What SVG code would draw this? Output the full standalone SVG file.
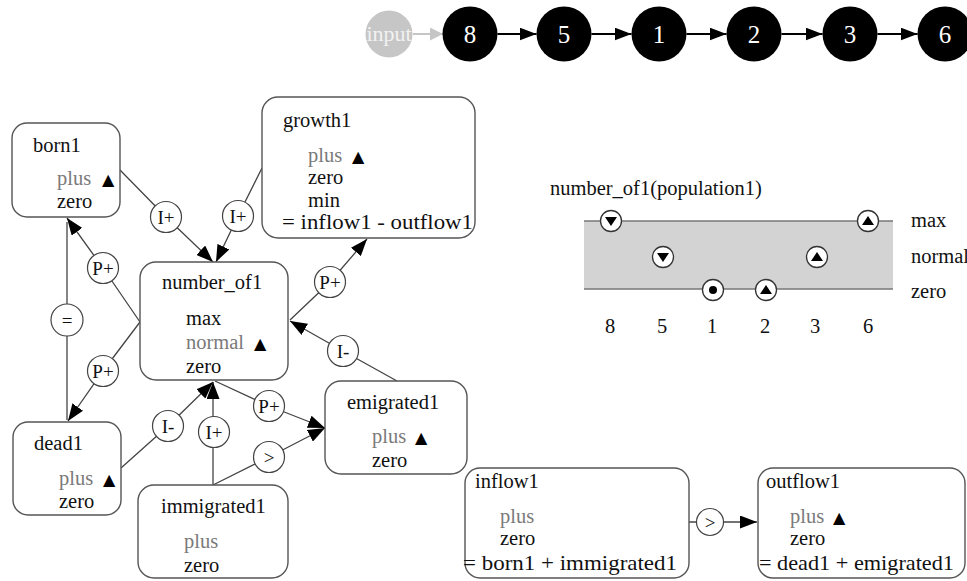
<svg xmlns="http://www.w3.org/2000/svg" width="967" height="581" viewBox="0 0 967 581">
  <style>
    text { font-family: "Liberation Serif", "Times New Roman", serif; }
    .box { fill: #fff; stroke: #555; stroke-width: 1.4; }
    .t { font-size: 20.5px; fill: #111; }
    .g { font-size: 20.5px; fill: #7a7a7a; }
    .eq { font-size: 22px; fill: #111; }
    .tri { font-family: "DejaVu Sans", sans-serif; font-size: 16px; fill: #000; }
    .edge { fill: none; stroke: #444; stroke-width: 1.3; }
    .lab circle { fill: #fff; stroke: #444; stroke-width: 1.2; }
    .lab text { font-size: 19px; text-anchor: middle; fill: #111; }
    .st circle { fill: #000; }
    .st text { fill: #fff; font-size: 25px; text-anchor: middle; }
    .chain { stroke: #000; stroke-width: 2; }
    .mk circle { fill: #fff; stroke: #333; stroke-width: 1.3; }
    .mk polygon, .mk .dot { fill: #000; stroke: none; }
    .axis { font-size: 20.5px; fill: #111; }
    .num { font-size: 20.5px; fill: #111; text-anchor: middle; }
  </style>
  <defs>
    <marker id="ah" viewBox="0 0 17 13" refX="17" refY="6.5" markerWidth="17" markerHeight="13" orient="auto" markerUnits="userSpaceOnUse">
      <path d="M0,0 L17,6.5 L0,13 Z" fill="#000"/>
    </marker>
    <marker id="ahGray" viewBox="0 0 13 13" refX="13" refY="6.5" markerWidth="13" markerHeight="13" orient="auto" markerUnits="userSpaceOnUse">
      <path d="M0,0 L13,6.5 L0,13 Z" fill="#c6c6c6"/>
    </marker>
  </defs>

  <!-- state sequence -->
  <g id="chain-links">
    <line x1="413" y1="34" x2="443" y2="34" stroke="#c6c6c6" stroke-width="2" marker-end="url(#ahGray)"/>
    <line class="chain" x1="497.5" y1="34" x2="536.5" y2="34" marker-end="url(#ah)"/>
    <line class="chain" x1="591.5" y1="34" x2="631.5" y2="34" marker-end="url(#ah)"/>
    <line class="chain" x1="686.5" y1="34" x2="726.5" y2="34" marker-end="url(#ah)"/>
    <line class="chain" x1="781.5" y1="34" x2="822.5" y2="34" marker-end="url(#ah)"/>
    <line class="chain" x1="877.5" y1="34" x2="917.5" y2="34" marker-end="url(#ah)"/>
  </g>
  <g id="state-input">
    <circle cx="389" cy="34" r="23.5" fill="#c6c6c6"/>
    <text x="389" y="41" font-size="22" fill="#f2f2f2" text-anchor="middle">input</text>
  </g>
  <g id="state-8" class="st"><circle cx="470" cy="34" r="27.5"/><text x="470" y="43">8</text></g>
  <g id="state-5" class="st"><circle cx="564" cy="34" r="27.5"/><text x="564" y="43">5</text></g>
  <g id="state-1" class="st"><circle cx="659" cy="34" r="27.5"/><text x="659" y="43">1</text></g>
  <g id="state-2" class="st"><circle cx="754" cy="34" r="27.5"/><text x="754" y="43">2</text></g>
  <g id="state-3" class="st"><circle cx="850" cy="34" r="27.5"/><text x="850" y="43">3</text></g>
  <g id="state-6" class="st"><circle cx="945" cy="34" r="27.5"/><text x="945" y="43">6</text></g>

  <!-- dependency connectors -->
  <g id="connectors">
    <polyline class="edge" points="120,170 166,217 213,262" marker-end="url(#ah)"/>
    <polyline class="edge" points="262,168 238,216 216,262" marker-end="url(#ah)"/>
    <polyline class="edge" points="140,322 103,268 67,218" marker-end="url(#ah)"/>
    <polyline class="edge" points="140,322 103,371 68,421" marker-end="url(#ah)"/>
    <polyline class="edge" points="67,222 67,320 67,420"/>
    <polyline class="edge" points="290,320 330,282 367,239" marker-end="url(#ah)"/>
    <polyline class="edge" points="397,381 343,351 290,321" marker-end="url(#ah)"/>
    <polyline class="edge" points="121,468 168,426 213,382" marker-end="url(#ah)"/>
    <polyline class="edge" points="213,485 213,432 213,382" marker-end="url(#ah)"/>
    <polyline class="edge" points="213,485 269,457 325,428" marker-end="url(#ah)"/>
    <polyline class="edge" points="215,381 269,406 325,428" marker-end="url(#ah)"/>
    <polyline class="edge" points="689,522 710,522 757,522" marker-end="url(#ah)"/>

    <g class="lab"><circle cx="166" cy="217" r="15.5"/><text x="166" y="224">I+</text></g>
    <g class="lab"><circle cx="238" cy="216" r="15.5"/><text x="238" y="223">I+</text></g>
    <g class="lab"><circle cx="103" cy="268" r="15.5"/><text x="103" y="275">P+</text></g>
    <g class="lab"><circle cx="103" cy="371" r="15.5"/><text x="103" y="378">P+</text></g>
    <g class="lab"><circle cx="67" cy="320" r="16"/><text x="67" y="327">=</text></g>
    <g class="lab"><circle cx="330" cy="282" r="15.5"/><text x="330" y="289">P+</text></g>
    <g class="lab"><circle cx="343" cy="351" r="15.5"/><text x="343" y="358">I-</text></g>
    <g class="lab"><circle cx="168" cy="426" r="15.5"/><text x="168" y="433">I-</text></g>
    <g class="lab"><circle cx="214" cy="432" r="15.5"/><text x="214" y="439">I+</text></g>
    <g class="lab"><circle cx="269" cy="457" r="15.5"/><text x="269" y="464">&gt;</text></g>
    <g class="lab"><circle cx="269" cy="406" r="15.5"/><text x="269" y="413">P+</text></g>
    <g class="lab"><circle cx="710" cy="522" r="13.5"/><text x="710" y="529">&gt;</text></g>
  </g>

  <!-- quantities -->
  <g id="born1">
    <rect class="box" x="12" y="123" width="108" height="94" rx="15"/>
    <text class="t" x="33" y="152">born1</text>
    <text class="g" x="57" y="185">plus</text>
    <text class="tri" x="102" y="185">▲</text>
    <text class="t" x="57" y="208">zero</text>
  </g>
  <g id="growth1">
    <rect class="box" x="262" y="97" width="213" height="141" rx="16"/>
    <text class="t" x="283" y="127">growth1</text>
    <text class="g" x="308" y="162">plus</text>
    <text class="tri" x="352" y="162">▲</text>
    <text class="t" x="308" y="184">zero</text>
    <text class="t" x="308" y="207">min</text>
    <text class="eq" x="282" y="229" textLength="191" lengthAdjust="spacingAndGlyphs">= inflow1 - outflow1</text>
  </g>
  <g id="number_of1">
    <rect class="box" x="140" y="262" width="148" height="118" rx="16"/>
    <text class="t" x="162" y="289">number_of1</text>
    <text class="t" x="186" y="325">max</text>
    <text class="g" x="186" y="349">normal</text>
    <text class="tri" x="254" y="349">▲</text>
    <text class="t" x="186" y="373">zero</text>
  </g>
  <g id="dead1">
    <rect class="box" x="13" y="422" width="108" height="93" rx="15"/>
    <text class="t" x="34" y="450">dead1</text>
    <text class="g" x="59" y="485">plus</text>
    <text class="tri" x="103" y="485">▲</text>
    <text class="t" x="59" y="508">zero</text>
  </g>
  <g id="immigrated1">
    <rect class="box" x="138" y="485" width="150" height="93" rx="16"/>
    <text class="t" x="161" y="513">immigrated1</text>
    <text class="g" x="184" y="548">plus</text>
    <text class="t" x="184" y="572">zero</text>
  </g>
  <g id="emigrated1">
    <rect class="box" x="325" y="381" width="142" height="93" rx="16"/>
    <text class="t" x="347" y="409">emigrated1</text>
    <text class="g" x="372" y="443">plus</text>
    <text class="tri" x="415" y="443">▲</text>
    <text class="t" x="372" y="467">zero</text>
  </g>
  <g id="inflow1">
    <rect class="box" x="465" y="468" width="224" height="110" rx="15"/>
    <text class="t" x="475" y="488">inflow1</text>
    <text class="g" x="500" y="523">plus</text>
    <text class="t" x="500" y="545">zero</text>
    <text class="eq" x="463" y="570" textLength="214" lengthAdjust="spacingAndGlyphs">= born1 + immigrated1</text>
  </g>
  <g id="outflow1">
    <rect class="box" x="758" y="468" width="207" height="110" rx="15"/>
    <text class="t" x="766" y="488">outflow1</text>
    <text class="g" x="790" y="523">plus</text>
    <text class="tri" x="833" y="523">▲</text>
    <text class="t" x="790" y="545">zero</text>
    <text class="eq" x="759" y="570" textLength="195" lengthAdjust="spacingAndGlyphs">= dead1 + emigrated1</text>
  </g>

  <!-- value history of number_of1 -->
  <g id="value-history">
    <text class="axis" x="550" y="195">number_of1(population1)</text>
    <rect x="584" y="221" width="309" height="68" fill="#d3d3d3"/>
    <line x1="584" y1="221" x2="893" y2="221" stroke="#777" stroke-width="1.5"/>
    <line x1="584" y1="289" x2="893" y2="289" stroke="#777" stroke-width="1.5"/>
    <text class="axis" x="911" y="227">max</text>
    <text class="axis" x="911" y="263">normal</text>
    <text class="axis" x="911" y="298">zero</text>

    <g class="mk"><circle cx="611" cy="221" r="10.5"/><polygon points="605,217 617,217 611,226"/></g>
    <g class="mk"><circle cx="663" cy="257" r="10.5"/><polygon points="657,253 669,253 663,262"/></g>
    <g class="mk"><circle cx="713" cy="290" r="10.5"/><circle class="dot" cx="713" cy="290" r="4"/></g>
    <g class="mk"><circle cx="766" cy="290" r="10.5"/><polygon points="760,294 772,294 766,285"/></g>
    <g class="mk"><circle cx="817" cy="257" r="10.5"/><polygon points="811,261 823,261 817,252"/></g>
    <g class="mk"><circle cx="868" cy="221" r="10.5"/><polygon points="862,225 874,225 868,216"/></g>

    <text class="num" x="610" y="333">8</text>
    <text class="num" x="662" y="333">5</text>
    <text class="num" x="712" y="333">1</text>
    <text class="num" x="765" y="333">2</text>
    <text class="num" x="815" y="333">3</text>
    <text class="num" x="868" y="333">6</text>
  </g>
</svg>
